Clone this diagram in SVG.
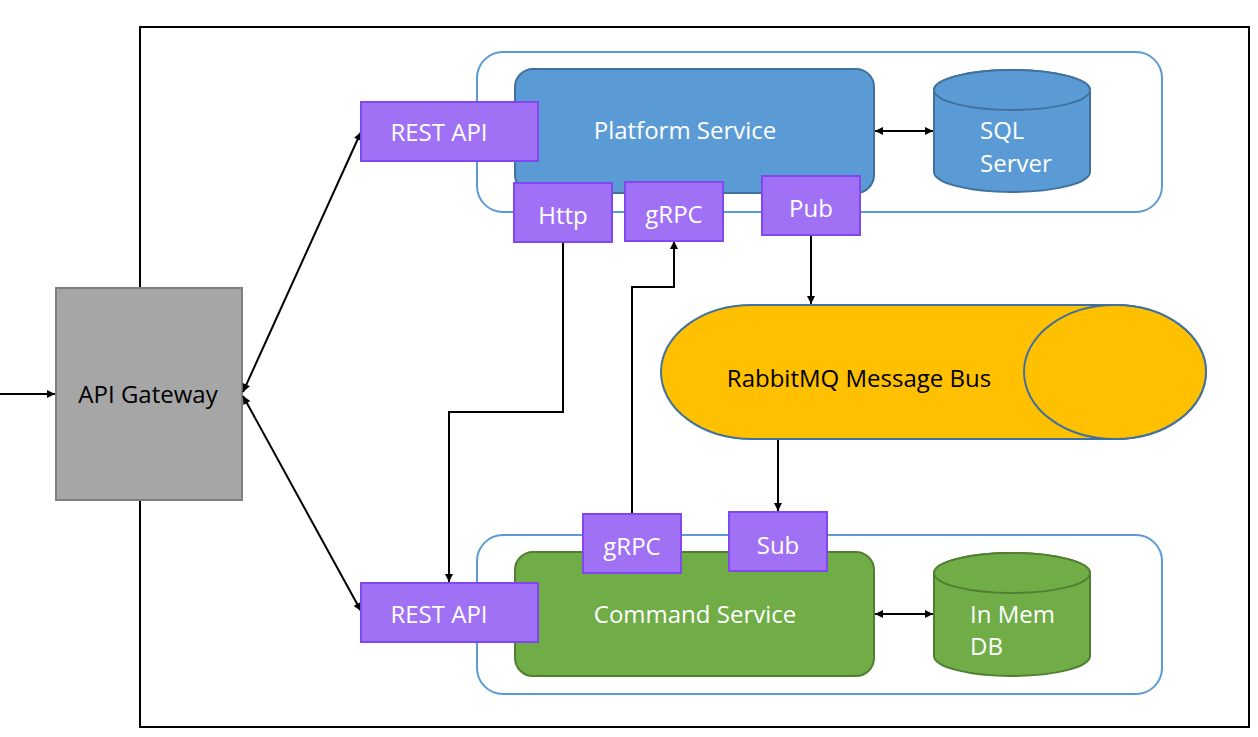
<svg xmlns="http://www.w3.org/2000/svg" width="1258" height="737" viewBox="0 0 1258 737">
<style>
text{font-family:"Open Sans","Liberation Sans",sans-serif;font-size:24px}
.w{fill:#ffffff}
.b{fill:#000000}
.c{text-anchor:middle}
.port{fill:#a071f4;stroke:#8148ef;stroke-width:2}
.cont{fill:#ffffff;stroke:#5b9bd5;stroke-width:2}
.con{fill:none;stroke:#000000;stroke-width:2}
</style>
<defs>
<marker id="ah" viewBox="0 0 10 10" refX="10" refY="5" markerUnits="userSpaceOnUse" markerWidth="9" markerHeight="8" orient="auto-start-reverse">
<path d="M0,0 L10,5 L0,10 z" fill="#000000"/>
</marker>
</defs>
<rect id="boundary" x="140" y="27" width="1109" height="700" fill="none" stroke="#000000" stroke-width="2"/>
<g id="platform-container"><rect class="cont" x="477" y="52" width="685" height="160" rx="26"/></g>
<g id="command-container"><rect class="cont" x="477" y="535" width="685" height="159" rx="26"/></g>
<g id="api-gateway">
<rect x="56" y="288" width="186" height="212" fill="#a6a6a6" stroke="#7f7f7f" stroke-width="2"/>
<text class="b c" x="148" y="403">API Gateway</text>
</g>
<g id="platform-service">
<rect x="515" y="69" width="359" height="124" rx="18" fill="#5b9bd5" stroke="#41719c" stroke-width="2"/>
<text class="w c" x="685" y="139">Platform Service</text>
</g>
<g id="command-service">
<rect x="515" y="552" width="359" height="124" rx="18" fill="#70ad47" stroke="#507e32" stroke-width="2"/>
<text class="w c" x="695" y="623">Command Service</text>
</g>
<g id="sql-server">
<path d="M934,90 A78,20 0 0 1 1090,90 L1090,172 A78,20 0 0 1 934,172 Z" fill="#5b9bd5" stroke="#41719c" stroke-width="2"/>
<ellipse cx="1012" cy="90" rx="78" ry="20" fill="#5b9bd5" stroke="#41719c" stroke-width="2"/>
<text class="w" x="980" y="139">SQL</text>
<text class="w" x="980" y="172">Server</text>
</g>
<g id="in-mem-db">
<path d="M934,573 A78,20 0 0 1 1090,573 L1090,656 A78,20 0 0 1 934,656 Z" fill="#70ad47" stroke="#507e32" stroke-width="2"/>
<ellipse cx="1012" cy="573" rx="78" ry="20" fill="#70ad47" stroke="#507e32" stroke-width="2"/>
<text class="w" x="970" y="623">In Mem</text>
<text class="w" x="970" y="655">DB</text>
</g>
<g id="rabbitmq">
<path d="M752,305 L1115,305 A91,67 0 0 1 1115,439 L752,439 A91,67 0 0 1 752,305 Z" fill="#ffc000" stroke="#41719c" stroke-width="2"/>
<ellipse cx="1115" cy="372" rx="91" ry="67" fill="#ffc000" stroke="#41719c" stroke-width="2"/>
<text class="b c" x="859" y="387">RabbitMQ Message Bus</text>
</g>
<g id="connectors">
<path class="con" d="M0,394 H55" marker-end="url(#ah)"/>
<path class="con" d="M243,392 L361,132" marker-start="url(#ah)" marker-end="url(#ah)"/>
<path class="con" d="M243,396 L361,611" marker-start="url(#ah)" marker-end="url(#ah)"/>
<path class="con" d="M563,242 V412 H449 V582" marker-end="url(#ah)"/>
<path class="con" d="M632,514 V287 H674 V241" marker-end="url(#ah)"/>
<path class="con" d="M811,235 V304" marker-end="url(#ah)"/>
<path class="con" d="M778,440 V511" marker-end="url(#ah)"/>
<path class="con" d="M875,131 H933" marker-start="url(#ah)" marker-end="url(#ah)"/>
<path class="con" d="M875,614 H933" marker-start="url(#ah)" marker-end="url(#ah)"/>
</g>
<g id="rest-api-platform">
<rect class="port" x="361" y="102" width="177" height="59"/>
<text class="w c" x="439" y="141">REST API</text>
</g>
<g id="http-platform">
<rect class="port" x="514" y="183" width="98" height="59"/>
<text class="w c" x="563" y="224">Http</text>
</g>
<g id="grpc-platform">
<rect class="port" x="625" y="182" width="98" height="59"/>
<text class="w c" x="674" y="223">gRPC</text>
</g>
<g id="pub-platform">
<rect class="port" x="762" y="176" width="98" height="59"/>
<text class="w c" x="811" y="217">Pub</text>
</g>
<g id="rest-api-command">
<rect class="port" x="361" y="583" width="177" height="59"/>
<text class="w c" x="439" y="623">REST API</text>
</g>
<g id="grpc-command">
<rect class="port" x="583" y="514" width="98" height="59"/>
<text class="w c" x="632" y="555">gRPC</text>
</g>
<g id="sub-command">
<rect class="port" x="729" y="512" width="98" height="59"/>
<text class="w c" x="778" y="554">Sub</text>
</g>
</svg>
